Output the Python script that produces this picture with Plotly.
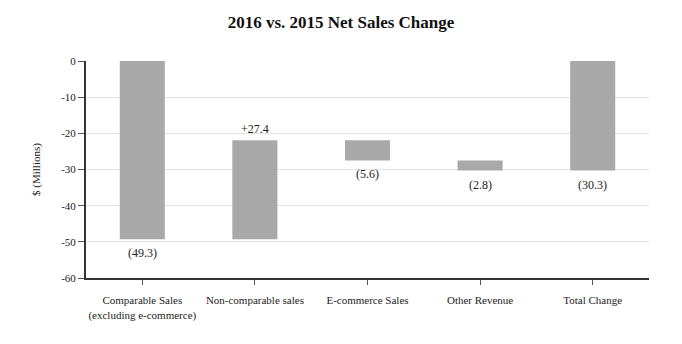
import plotly.graph_objects as go

categories = ["Comparable Sales<br>(excluding e-commerce)", "Non-comparable sales",
              "E-commerce Sales", "Other Revenue", "Total Change"]
changes = [-49.3, 27.4, -5.6, -2.8]
total_change = -30.3
y_ticks = [0, -10, -20, -30, -40, -50, -60]

# Floating bars: each step starts where the previous running total ended
bases, heights, labels = [], [], []
running = 0.0
for c in changes:
    bases.append(running)
    heights.append(c)
    labels.append(f"+{c:.1f}" if c > 0 else f"({abs(c):.1f})")
    running += c
bases.append(0.0)
heights.append(total_change)
labels.append(f"({abs(total_change):.1f})")

font = "Liberation Serif, Times New Roman, serif"

fig = go.Figure(go.Bar(
    x=categories, y=heights, base=bases, width=0.4,
    marker=dict(color="#a9a9a9", line=dict(width=0)),
    hoverinfo="skip",
))

for cat, b, h, lab in zip(categories, bases, heights, labels):
    if h > 0:
        y, anchor, shift = b + h, "bottom", 2
    else:
        y, anchor, shift = b + h, "top", -5
    fig.add_annotation(x=cat, y=y, text=lab, showarrow=False, yanchor=anchor,
                       yshift=shift, font=dict(family=font, size=12, color="#222"))

fig.update_layout(
    width=682, height=344,
    margin=dict(l=86, r=33, t=61, b=66, autoexpand=False),
    paper_bgcolor="white", plot_bgcolor="white",
    showlegend=False,
    title=dict(text="<b>2016 vs. 2015 Net Sales Change</b>", x=0.5, xanchor="center",
               y=0.935, yanchor="middle",
               font=dict(family=font, size=17, color="#111")),
    font=dict(family=font, size=11, color="#222"),
    bargap=0.6,
)
fig.update_xaxes(
    showline=True, linecolor="#333", linewidth=2,
    ticks="outside", ticklen=5, tickcolor="#555", tickwidth=1,
    ticklabelstandoff=6, tickangle=0, automargin=False,
    showgrid=False, tickfont=dict(family=font, size=11, color="#222"),
)
fig.update_yaxes(
    range=[-60, 0], tickvals=y_ticks, ticktext=[str(v) for v in y_ticks],
    showline=True, linecolor="#333", linewidth=2,
    ticks="outside", ticklen=6, tickcolor="#555", tickwidth=1,
    showgrid=True, gridcolor="#e3e3e3", gridwidth=1, zeroline=False,
    title=dict(text="$ (Millions)", standoff=18, font=dict(family=font, size=11, color="#222")),
    tickfont=dict(family=font, size=11, color="#222"),
)

fig.write_html("out.html")
